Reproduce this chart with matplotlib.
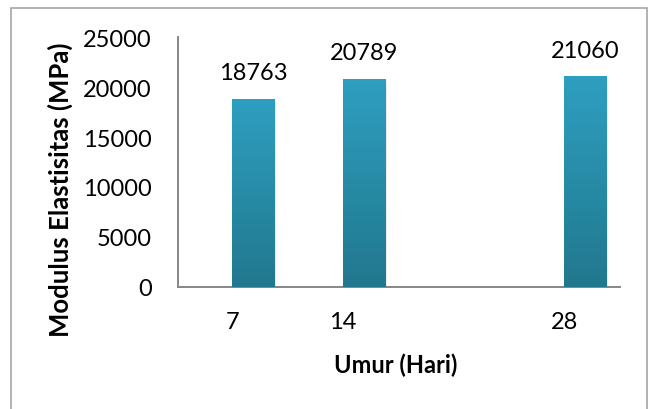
import matplotlib
matplotlib.use("Agg")
import matplotlib.pyplot as plt
import numpy as np
from matplotlib.patches import Rectangle
from matplotlib.colors import LinearSegmentedColormap

days = [7, 14, 28]
values = [18763, 20789, 21060]
value_labels = ["18763", "20789", "21060"]
yticks = [0, 5000, 10000, 15000, 20000, 25000]

plt.rcParams['font.family'] = ['Lato', 'DejaVu Sans']
FS = 17

fig = plt.figure(figsize=(6.54, 4.10), dpi=100)
fig.patch.set_facecolor('white')
fig.add_artist(Rectangle((11/654, -0.05), (647-11)/654, 1.05 - 9/410,
                         transform=fig.transFigure, fill=False,
                         edgecolor='#a6a6a6', linewidth=1.2))

ax = fig.add_axes([178/654, (410-288)/410, (620-178)/654, (288-38)/410])

cmap = LinearSegmentedColormap.from_list('g', ['#21788e', '#2e9fc0'])
grad = np.linspace(0, 1, 256).reshape(-1, 1)
bars = ax.bar(days, values, width=2.66, align='edge', color='#2a8eab', zorder=2)
for b, lab in zip(bars, value_labels):
    x0, y0 = b.get_x(), b.get_y()
    w, h = b.get_width(), b.get_height()
    ax.add_patch(Rectangle((x0 + 0.12, y0), w, h - 150, color='#000000',
                           alpha=0.08, zorder=1, linewidth=0))
    im = ax.imshow(grad, cmap=cmap, aspect='auto', origin='lower',
                   extent=(x0, x0 + w, y0, y0 + h), zorder=3)
    im.set_clip_path(b)
    ax.annotate(lab, (x0 + w / 2, h), xytext=(0, 19),
                textcoords='offset points', ha='center', va='center',
                fontsize=FS, color='#000000')

ax.set_xlim(3.58, 31.54)
ax.set_ylim(0, 25000)
ax.set_yticks(yticks)
ax.set_yticklabels([str(t) for t in yticks])
ax.set_xticks(days)
ax.set_xticklabels([str(d) for d in days])
ax.tick_params(axis='y', length=0, pad=19, labelsize=FS)
ax.tick_params(axis='x', length=0, pad=17, labelsize=FS)

for s in ['top', 'right']:
    ax.spines[s].set_visible(False)
for s in ['left', 'bottom']:
    ax.spines[s].set_color('#868686')
    ax.spines[s].set_linewidth(1.4)

fig.text(60/654, 1 - 190/410, 'Modulus Elastisitas (MPa)', rotation=90,
         ha='center', va='center', fontsize=18.5, fontweight='bold')
fig.text(396/654, 1 - 365/410, 'Umur (Hari)', ha='center', va='center',
         fontsize=FS, fontweight='bold')

fig.savefig('out.png', dpi=100)
